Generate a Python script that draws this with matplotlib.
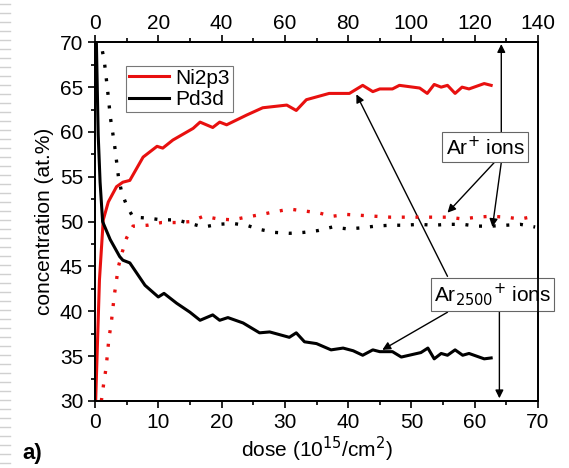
import matplotlib
matplotlib.use('Agg')
import matplotlib.pyplot as plt
from matplotlib.lines import Line2D

plt.rcParams['font.family'] = ['Liberation Sans', 'DejaVu Sans']

# Ar2500+ ions (solid, bottom axis, dose 1e15/cm2)
ni_dose = [0.1, 0.7, 1.3, 2.1, 3.4, 4.4, 5.5, 7.6, 9.8, 10.7, 12.3, 15.5, 16.6, 18.6, 19.7,
           20.8, 24.0, 26.5, 30.3, 31.8, 33.4, 37.0, 40.2, 42.3, 43.9, 45.0, 47.0, 48.1,
           51.3, 52.5, 53.6, 54.7, 55.7, 56.9, 58.0, 59.1, 61.5, 62.6]
ni_conc = [30.0, 43.5, 50.2, 52.2, 53.9, 54.4, 54.6, 57.2, 58.4, 58.2, 59.1, 60.4, 61.1, 60.5, 61.1,
           60.8, 61.9, 62.7, 63.0, 62.4, 63.6, 64.3, 64.3, 65.2, 64.5, 64.8, 64.8, 65.2,
           64.9, 64.3, 65.3, 65.0, 65.2, 64.3, 65.0, 64.8, 65.4, 65.2]

pd_dose = [0.2, 0.5, 0.8, 1.2, 2.4, 3.9, 4.4, 5.5, 7.9, 10.0, 10.9, 12.9, 15.0, 16.6, 18.6,
           19.7, 21.0, 23.4, 26.0, 27.6, 30.7, 31.8, 33.1, 35.0, 37.3, 39.2, 40.8, 42.3,
           43.9, 45.0, 47.0, 48.4, 51.5, 52.6, 53.6, 54.7, 55.7, 56.9, 58.1, 59.1, 61.5, 62.6]
pd_conc = [70.5, 59.7, 54.4, 50.0, 48.0, 46.1, 45.7, 45.4, 42.9, 41.6, 42.0, 40.9, 39.9, 39.0, 39.6,
           39.0, 39.3, 38.7, 37.6, 37.7, 37.1, 37.6, 36.6, 36.4, 35.7, 35.9, 35.6, 35.1,
           35.7, 35.5, 35.5, 34.9, 35.4, 35.9, 34.7, 35.3, 35.1, 35.7, 35.1, 35.3, 34.7, 34.8]

# Ar+ ions (dotted, top axis)
ni_ar_dose = [2.0, 2.8, 3.5, 4.4, 5.1, 6.1, 7.4, 8.6, 10.0, 12.0, 16.6, 21.0, 25.6, 30.0, 34.3,
              38.9, 43.4, 47.8, 52.5, 56.8, 61.5, 65.9, 70.4, 75.0, 79.6, 84.1, 88.6, 93.3,
              97.8, 102.5, 107.0, 111.5, 116.2, 120.7, 125.2, 129.8, 134.4, 139.1]
ni_ar_conc = [30.0, 32.1, 33.7, 37.0, 38.6, 41.8, 45.0, 46.6, 48.2, 49.5, 49.6, 49.9, 49.9, 50.0, 50.6,
              50.3, 50.2, 50.5, 50.8, 51.1, 51.4, 51.2, 51.0, 50.6, 50.8, 50.7, 50.6, 50.5,
              50.5, 50.5, 50.5, 50.5, 50.3, 50.5, 50.6, 50.5, 50.3, 50.6]

pd_ar_dose = [1.5, 2.9, 3.9, 4.9, 5.6, 6.3, 7.4, 8.4, 10.0, 12.0, 16.6, 21.0, 25.8, 30.0, 34.3,
              38.9, 43.4, 47.8, 52.5, 56.8, 61.5, 65.9, 70.4, 75.0, 79.6, 84.1, 88.6, 93.3,
              97.8, 102.5, 107.0, 111.5, 116.2, 120.7, 125.2, 129.8, 134.4, 139.1]
pd_ar_conc = [70.5, 68.0, 64.9, 61.5, 59.9, 58.2, 55.0, 53.3, 51.8, 50.5, 50.4, 50.2, 50.2, 49.8, 49.4,
              49.7, 49.8, 49.6, 49.1, 48.8, 48.7, 48.8, 49.0, 49.4, 49.2, 49.3, 49.5, 49.6,
              49.6, 49.7, 49.6, 49.7, 49.7, 49.5, 49.5, 49.6, 49.7, 49.4]

fig = plt.figure(figsize=(5.69, 4.68), dpi=100)
ax = fig.add_axes([0.167, 0.1432, 0.7785, 0.7664])

ax.plot(ni_dose, ni_conc, color='#e8100f', lw=2.2, label='Ni2p3')
ax.plot(pd_dose, pd_conc, color='black', lw=2.2, label='Pd3d')

ax.set_xlim(0, 70)
ax.set_ylim(30, 70)
ax.set_xticks(range(0, 71, 10))
ax.set_xticks(range(5, 70, 10), minor=True)
ax.set_yticks(range(30, 71, 5))
ax.set_yticks([32.5 + 5 * i for i in range(8)], minor=True)
ax.tick_params(which='major', direction='out', length=5, width=1.2, labelsize=15)
ax.tick_params(which='minor', direction='out', length=3, width=1.2)
ax.set_xlabel('dose (10$^{15}$/cm$^{2}$)', fontsize=15, labelpad=2)
ax.set_ylabel('concentration (at.%)', fontsize=15, labelpad=4)

# top axis for Ar+ dose
ax2 = ax.twiny()
ax2.set_xlim(0, 140)
ax2.plot(ni_ar_dose, ni_ar_conc, color='#e8100f', lw=2.4, linestyle=(0, (0.9, 3.2)), dash_capstyle='butt')
ax2.plot(pd_ar_dose, pd_ar_conc, color='black', lw=2.4, linestyle=(0, (0.9, 3.2)), dash_capstyle='butt')
ax2.set_xticks(range(0, 141, 20))
ax2.set_xticks(range(10, 140, 20), minor=True)
ax2.tick_params(which='major', direction='out', length=5, width=1.2, labelsize=15, pad=2)
ax2.tick_params(which='minor', direction='out', length=3, width=1.2)

for a in (ax, ax2):
    for s in a.spines.values():
        s.set_linewidth(1.3)

leg = ax.legend(loc='upper left', bbox_to_anchor=(0.07, 0.935), fontsize=15, frameon=True,
                fancybox=False, edgecolor='#555555', handlelength=1.9, handletextpad=0.3,
                borderpad=0.15, labelspacing=0.1, borderaxespad=0)
leg.get_frame().set_linewidth(0.8)

box = dict(boxstyle='square,pad=0.15', fc='white', ec='#666666', lw=0.8)
arr = dict(arrowstyle='-|>', color='black', lw=1.0, mutation_scale=12, shrinkA=0, shrinkB=0)

# Ar+ ions annotation (top axis units)
ax2.text(123.3, 58.3, 'Ar$^{+}$ ions', fontsize=15, ha='center', va='center', bbox=box, zorder=5)
ax2.annotate('', xy=(128.4, 69.8), xytext=(128.4, 59.9), arrowprops=arr)
ax2.annotate('', xy=(111.4, 51.0), xytext=(126.2, 56.6), arrowprops=arr)
ax2.annotate('', xy=(125.6, 49.4), xytext=(128.4, 56.6), arrowprops=arr)

# Ar2500+ ions annotation (bottom axis units)
ax.text(62.8, 41.9, 'Ar$_{2500}$$^{+}$ ions', fontsize=15, ha='center', va='center', bbox=box,
        zorder=5, clip_on=False)
ax.annotate('', xy=(41.3, 64.2), xytext=(55.7, 43.9), arrowprops=arr)
ax.annotate('', xy=(45.4, 35.7), xytext=(55.7, 39.9), arrowprops=arr)
ax.annotate('', xy=(63.9, 30.3), xytext=(63.9, 40.0), arrowprops=arr)

fig.text(0.04, 0.02, 'a)', fontsize=16, fontweight='bold')

# faint striped edge on the left of the slide
for i in range(52):
    y = 1 - (4 + 9 * i) / 468
    fig.add_artist(Line2D([0, 10 / 569], [y, y], color='#d0d0d0', lw=1.0))

fig.savefig('out.png', dpi=100)
